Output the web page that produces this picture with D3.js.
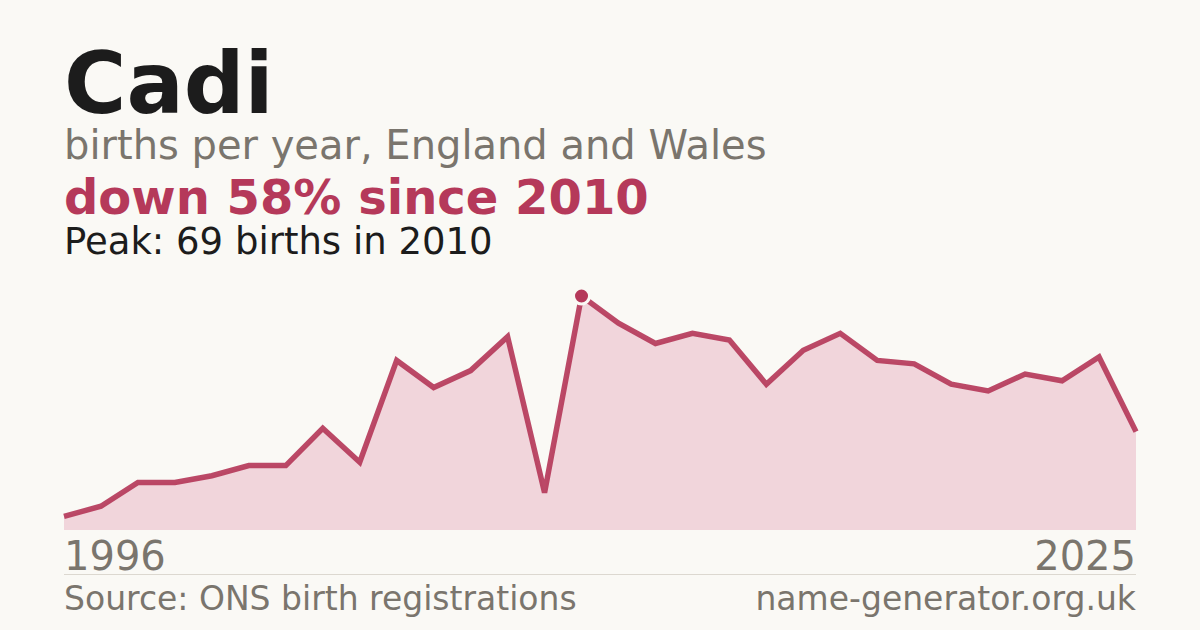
<!DOCTYPE html>
<html>
<head>
<meta charset="utf-8">
<script src="https://cdn.jsdelivr.net/npm/d3@7"></script>
<style>
    body { margin: 0; background: #faf9f5; }
    svg { display: block; font-family: "DejaVu Sans", sans-serif; }
</style>
</head>
<body>
<svg id="chart" width="1200" height="630"></svg>
<script>
"use strict";

const years = d3.range(1996, 2026);
const births = [4, 7, 14, 14, 16, 19, 19, 30, 20, 50, 42, 47, 57, 11, 69,
                61, 55, 58, 56, 43, 53, 58, 50, 49, 43, 41, 46, 44, 51, 29];
const axisLabels = ["1996", "2025"];

const svg = d3.select("#chart");
const red = "#b5395a";
const grey = "#7a756d";

svg.append("rect").attr("width", 1200).attr("height", 630).attr("fill", "#faf9f5");

// header texts
svg.append("text").attr("x", 64).attr("y", 113)
    .attr("font-size", 85).attr("font-weight", "bold").attr("fill", "#1c1c1c")
    .text("Cadi");
svg.append("text").attr("x", 64).attr("y", 159)
    .attr("font-size", 40).attr("fill", grey)
    .text("births per year, England and Wales");
svg.append("text").attr("x", 64).attr("y", 214)
    .attr("font-size", 48).attr("font-weight", "bold").attr("fill", red)
    .text("down 58% since 2010");
svg.append("text").attr("x", 64).attr("y", 254)
    .attr("font-size", 37).attr("fill", "#1c1c1c")
    .text("Peak: 69 births in 2010");

// scales
const x = d3.scaleLinear().domain([1996, 2025]).range([64, 1136]);
const y = d3.scaleLinear().domain([0, 69]).range([530, 296]);

const data = years.map((yr, i) => ({ year: yr, value: births[i] }));

const area = d3.area()
    .x(d => x(d.year))
    .y0(y(0))
    .y1(d => y(d.value));

const line = d3.line()
    .x(d => x(d.year))
    .y(d => y(d.value));

svg.append("path").datum(data)
    .attr("d", area)
    .attr("fill", "#f1d5db");

svg.append("path").datum(data)
    .attr("d", line)
    .attr("fill", "none")
    .attr("stroke", red)
    .attr("stroke-width", 5.5)
    .attr("stroke-linejoin", "miter")
    .attr("opacity", 0.92);

// peak marker
const peak = data.reduce((a, b) => b.value > a.value ? b : a);
svg.append("circle")
    .attr("cx", x(peak.year)).attr("cy", y(peak.value))
    .attr("r", 8)
    .attr("fill", red)
    .attr("stroke", "#faf9f5")
    .attr("stroke-width", 3);

// year labels
svg.append("text").attr("x", x(1996)).attr("y", 570)
    .attr("font-size", 40).attr("fill", grey)
    .text(axisLabels[0]);
svg.append("text").attr("x", x(2025)).attr("y", 570)
    .attr("font-size", 40).attr("fill", grey).attr("text-anchor", "end")
    .text(axisLabels[1]);

// rule
svg.append("line")
    .attr("x1", 64).attr("x2", 1136).attr("y1", 574.5).attr("y2", 574.5)
    .attr("stroke", "#dcd8d0").attr("stroke-width", 1);

// footer
svg.append("text").attr("x", 64).attr("y", 610)
    .attr("font-size", 33).attr("fill", grey)
    .text("Source: ONS birth registrations");
svg.append("text").attr("x", 1136).attr("y", 610)
    .attr("font-size", 33).attr("fill", grey).attr("text-anchor", "end")
    .text("name-generator.org.uk");
</script>
</body>
</html>
